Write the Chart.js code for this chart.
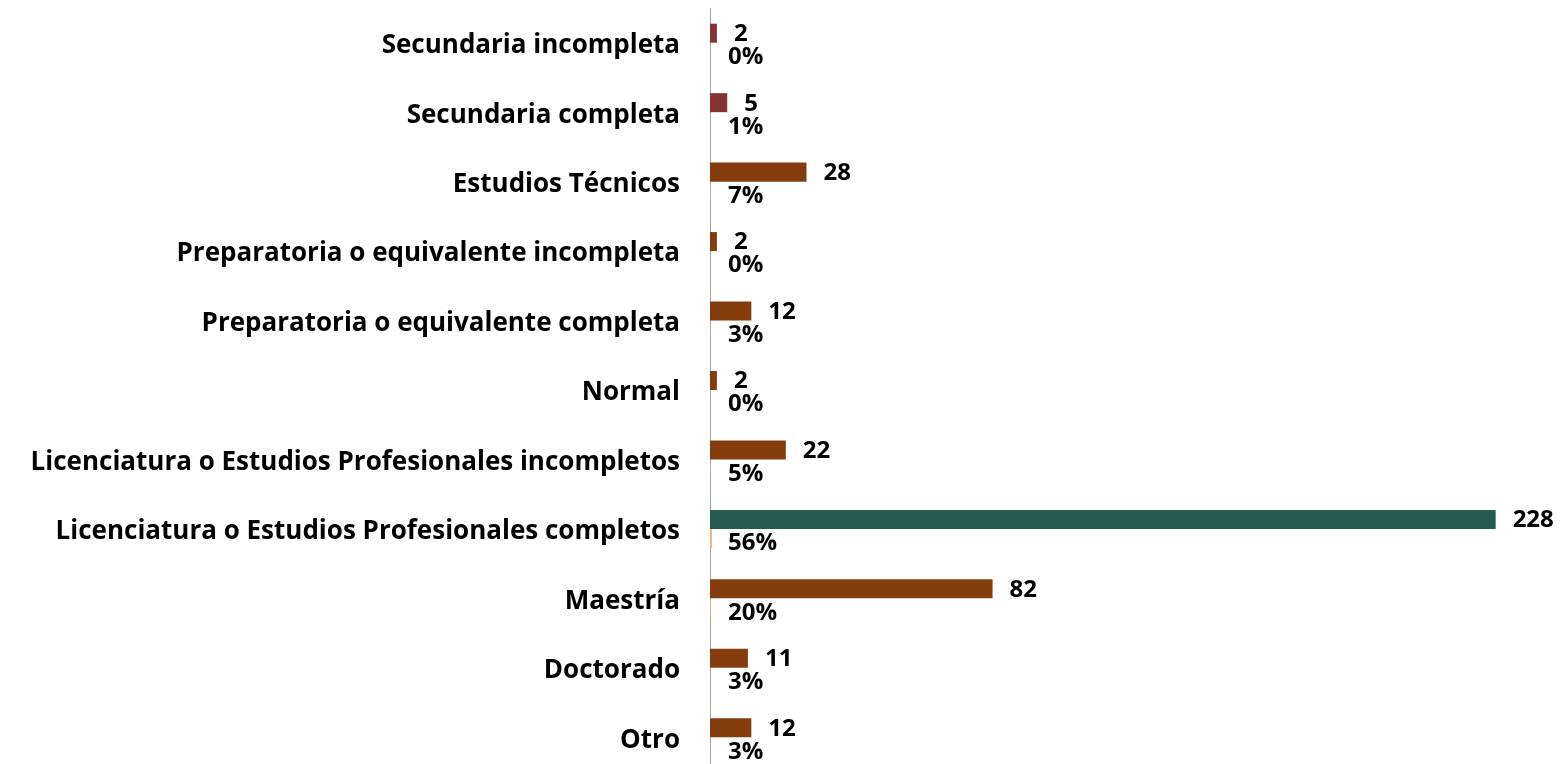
<!DOCTYPE html>
<html>
<head>
<meta charset="utf-8">
<script src="https://cdn.jsdelivr.net/npm/chart.js@4.4.1/dist/chart.umd.min.js"></script>
<style>
  html, body { margin: 0; padding: 0; overflow: hidden; background: #ffffff; }
  #wrap { position: relative; width: 1561px; height: 772px; }
</style>
</head>
<body>
<div id="wrap"><canvas id="c"></canvas></div>
<script>
const categories = [
  "Secundaria incompleta",
  "Secundaria completa",
  "Estudios Técnicos",
  "Preparatoria o equivalente incompleta",
  "Preparatoria o equivalente completa",
  "Normal",
  "Licenciatura o Estudios Profesionales incompletos",
  "Licenciatura o Estudios Profesionales completos",
  "Maestría",
  "Doctorado",
  "Otro"
];
const counts = [2, 5, 28, 2, 12, 2, 22, 228, 82, 11, 12];
const percents = [0, 1, 7, 0, 3, 0, 5, 56, 20, 3, 3];

const RED = "#843235", BROWN = "#843C0C", GREEN = "#245B4F", LIGHT = "#F4B183";
const countColors = [RED, RED, BROWN, BROWN, BROWN, BROWN, BROWN, GREEN, BROWN, BROWN, BROWN];

const FONT = "'Open Sans', 'DejaVu Sans', sans-serif";
const FSIZE = 26;
const VSIZE = 24;

const labelPlugin = {
  id: 'valueLabels',
  afterDatasetsDraw(chart) {
    const ctx = chart.ctx;
    ctx.save();
    ctx.font = "bold " + VSIZE + "px " + FONT;
    ctx.fillStyle = "#000";
    ctx.textBaseline = "middle";
    ctx.textAlign = "left";
    const m0 = chart.getDatasetMeta(0);
    m0.data.forEach((el, i) => {
      ctx.fillText(String(counts[i]), el.x + 17, el.y + 1);
    });
    const m1 = chart.getDatasetMeta(1);
    m1.data.forEach((el, i) => {
      ctx.fillText(percents[i] + "%", el.base + 18, el.y + 5);
    });
    ctx.restore();
  }
};

new Chart(document.getElementById('c'), {
  type: 'bar',
  data: {
    labels: categories,
    datasets: [
      { data: counts, backgroundColor: countColors, borderWidth: 0,
        categoryPercentage: 0.548, barPercentage: 1 },
      { data: percents.map(p => p / 100), backgroundColor: LIGHT, borderWidth: 0,
        categoryPercentage: 0.548, barPercentage: 1 }
    ]
  },
  options: {
    indexAxis: 'y',
    responsive: true,
    maintainAspectRatio: false,
    animation: false,
    layout: { padding: { top: 8, bottom: 0, left: 0, right: 24 } },
    plugins: { legend: { display: false }, tooltip: { enabled: false } },
    scales: {
      x: { display: false, min: 0, max: 240 },
      y: {
        grid: { display: false, drawTicks: false },
        border: { display: true, color: "#A6A6A6", width: 1 },
        ticks: { color: "#000", padding: 30, labelOffset: 3, font: { family: FONT, size: FSIZE, weight: 'bold' } },
        afterFit(scale) {
          scale.width = 710;
          scale.paddingTop = 0;
          scale.paddingBottom = 0;
        }
      }
    }
  },
  plugins: [labelPlugin]
});
</script>
</body>
</html>
